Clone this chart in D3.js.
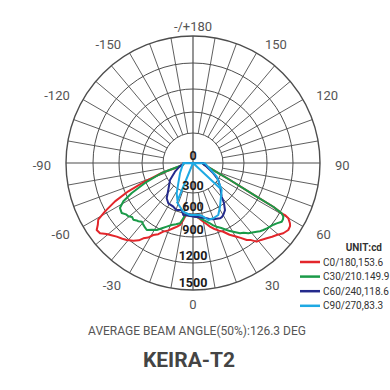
<!DOCTYPE html>
<html><head><meta charset="utf-8">
<script src="https://cdn.jsdelivr.net/npm/d3@7"></script>
<style>html,body{margin:0;padding:0;background:#fff;} svg{display:block;}</style>
</head><body>
<svg id="chart" width="390" height="390"></svg>
<script>
// ---- data ----
const angleTicks = [0, 30, 60, 90, 120, 150, 180, -150, -120, -90, -60, -30];
const angleTickLabels = ["0", "30", "60", "90", "120", "150", "-/+180", "-150", "-120", "-90", "-60", "-30"];
const radialTicks = [0, 300, 600, 900, 1200, 1500];
const seriesNames = ["C0/180,153.6", "C30/210.149.9", "C60/240,118.6", "C90/270,83.3"];
const unitLabel = "UNIT:cd";
const beamText = "AVERAGE BEAM ANGLE(50%):126.3 DEG";
const titleText = "KEIRA-T2";

// [gamma (deg), intensity (cd)] in drawing order
const c0_180 = [[-90,90],[-75.8,134],[-72.3,341],[-70,499],[-69.1,605],[-66.4,856],[-63.8,1049],[-61.2,1204],[-59.1,1316],[-57,1350],[-55.2,1392],[-52.9,1384],[-50.6,1331],[-48.5,1300],[-46,1267],[-43,1240],[-40.7,1218],[-37.5,1177],[-35,1135],[-33.4,1087],[-31,1050],[-28.9,995],[-26,960],[-23.4,909],[-20,870],[-16.8,824],[-14,790],[-11.8,760],[-9.7,689],[-7.7,620],[-4,622],[0,626],[4,640],[7,670],[10,712],[12.5,750],[14.9,794],[18,840],[21,880],[23.8,913],[27,975],[30.7,1035],[32.5,1070],[34.9,1130],[37,1160],[39,1213],[41.5,1230],[44.4,1260],[47,1290],[49.3,1316],[52.1,1360],[54.9,1383],[57,1375],[58.1,1358],[59.9,1313],[60.5,1263],[60.4,1222],[61.4,1101],[62.1,874],[65.3,453],[69.2,254],[84,103],[90,100]];
const c30_210 = [[-90,90],[-80,98],[-72.3,341],[-67.4,613],[-63.9,824],[-61.2,963],[-58.4,1036],[-55,1051],[-52.5,1020],[-50.5,1013],[-48.5,985],[-46.5,996],[-44.5,975],[-43.2,968],[-41,945],[-38.9,960],[-36.5,975],[-34.6,985],[-31.5,950],[-28.4,925],[-25,870],[-22.4,833],[-19,790],[-15.5,765],[-12.2,740],[-9.9,667],[-8.7,621],[-4,620],[0,626],[4,640],[7,660],[10.2,690],[13,720],[15.7,753],[18,790],[20.4,822],[23.5,860],[26.7,912],[28.5,940],[30.4,965],[33.8,1022],[36,1040],[38.2,1078],[40.5,1100],[42.8,1127],[44.5,1150],[46.4,1167],[48.5,1185],[50.4,1199],[52.5,1215],[54.2,1236],[56.5,1271],[58,1268],[59.3,1256],[60.4,1222],[61.4,1101],[62.1,874],[65.3,453],[69.2,254],[84,103],[90,100]];
const c60_240 = [[-90,95],[-84,98],[-75,140],[-64.2,200],[-53.5,286],[-42.5,394],[-36.7,500],[-31.5,547],[-27,550],[-24.3,556],[-21,575],[-19.1,581],[-16,570],[-13.5,561],[-10.6,625],[-7,620],[-3.2,627],[2,635],[7.3,648],[10.5,660],[13.9,678],[17,700],[19.8,715],[23,725],[26,737],[28,735],[30.2,720],[32,700],[34.2,677],[37.6,597],[40.4,504],[43,460],[45.7,424],[50,370],[56.1,307],[63.1,228],[74.9,142],[84.5,103],[90,100]];
const c90_270 = [[46.9,400],[0,0],[-22.3,455],[-28.3,363],[-35.9,251],[-51.6,166],[-90,97],[88.6,120],[60,274],[46.7,434],[31.7,605],[25.9,689],[20.2,703],[15,704],[10.9,648],[7.7,620],[-3.3,614],[-11.3,581],[-16.6,523],[-22.8,471]];

// ---- layout ----
const svg = d3.select("#chart");
const cx = 193, cy = 163;
const r = d3.scaleLinear().domain(radialTicks).range([0, 30, 51, 74, 100, 127]);
const rMax = r(1500);
const toRad = g => g * Math.PI / 180;
const pos = (g, rad) => [rad * Math.sin(toRad(g)), rad * Math.cos(toRad(g))];

const g = svg.append("g").attr("transform", `translate(${cx},${cy})`);
const gridColor = "#4d4d4d";

// rings
g.selectAll("circle.ring").data(radialTicks.slice(1)).enter().append("circle")
  .attr("r", d => r(d)).attr("fill", "none")
  .attr("stroke", gridColor).attr("stroke-width", d => d === 1500 ? 1.4 : 1);

// spokes
const spokes = d3.range(0, 360, 10);
g.selectAll("line.spoke").data(spokes).enter().append("line")
  .attr("x1", d => pos(d, d % 90 === 0 ? 0 : r(300))[0])
  .attr("y1", d => pos(d, d % 90 === 0 ? 0 : r(300))[1])
  .attr("x2", d => pos(d, rMax)[0])
  .attr("y2", d => pos(d, rMax)[1])
  .attr("stroke", gridColor).attr("stroke-width", d => d % 90 === 0 ? 1.2 : 0.9);

// angle labels
g.selectAll("text.ang").data(angleTicks).enter().append("text")
  .attr("x", d => {
    const s = Math.sin(toRad(d));
    return 140 * s + (Math.abs(s) < 0.01 ? 0 : (s < 0 ? -2 : 2));
  })
  .attr("y", d => 2 + 139 * Math.cos(toRad(d)))
  .attr("dy", "0.36em")
  .attr("text-anchor", d => {
    const s = Math.sin(toRad(d));
    return Math.abs(s) < 0.01 ? "middle" : (s < 0 ? "end" : "start");
  })
  .attr("font-family", "Roboto, 'Noto Sans', sans-serif")
  .attr("font-size", 13).attr("fill", "#555")
  .text((d, i) => angleTickLabels[i]);

// curves
const radial = d3.lineRadial()
  .angle(d => Math.PI - toRad(d[0]))
  .radius(d => r(d[1]));
const series = [
  {data: c0_180, color: "#e3262b", closed: true},
  {data: c30_210, color: "#1a9a48", closed: true},
  {data: c60_240, color: "#242a8c", closed: true},
  {data: c90_270, color: "#1ea9e3", closed: false}
];
g.selectAll("path.curve").data(series).enter().append("path")
  .attr("d", d => radial(d.data) + (d.closed ? "Z" : ""))
  .attr("fill", "none").attr("stroke", d => d.color)
  .attr("stroke-width", 2).attr("stroke-linejoin", "round");

// radial labels
g.selectAll("text.rad").data(radialTicks).enter().append("text")
  .attr("x", 0).attr("y", d => r(d) - 3)
  .attr("text-anchor", "middle")
  .attr("font-family", "Roboto, 'Noto Sans', sans-serif")
  .attr("font-weight", "bold").attr("font-size", 12.5).attr("fill", "#1a1a1a")
  .text(d => d);

// legend
svg.append("text").attr("x", 382).attr("y", 247).attr("dy", "0.35em")
  .attr("text-anchor", "end").attr("font-family", "Roboto, sans-serif")
  .attr("font-weight", "bold").attr("font-size", 10).attr("fill", "#333").text(unitLabel);
const leg = svg.selectAll("g.leg").data(series).enter().append("g")
  .attr("transform", (d, i) => `translate(300,${262 + i * 14.6})`);
leg.append("line").attr("x1", 0).attr("x2", 20).attr("y1", 0).attr("y2", 0)
  .attr("stroke", d => d.color).attr("stroke-width", 2.5);
leg.append("text").attr("x", 23).attr("y", 0).attr("dy", "0.35em")
  .attr("font-family", "Roboto, sans-serif").attr("font-size", 10).attr("fill", "#333")
  .text((d, i) => seriesNames[i]);

// bottom texts
svg.append("text").attr("x", 197).attr("y", 331).attr("dy", "0.35em")
  .attr("text-anchor", "middle").attr("font-family", "Roboto, sans-serif")
  .attr("font-size", 12).attr("fill", "#555").text(beamText);
svg.append("text").attr("x", 189).attr("y", 360).attr("dy", "0.35em")
  .attr("text-anchor", "middle").attr("font-family", "Roboto, sans-serif")
  .attr("font-weight", "bold").attr("font-size", 21).attr("fill", "#444").text(titleText);
</script>
</body></html>
